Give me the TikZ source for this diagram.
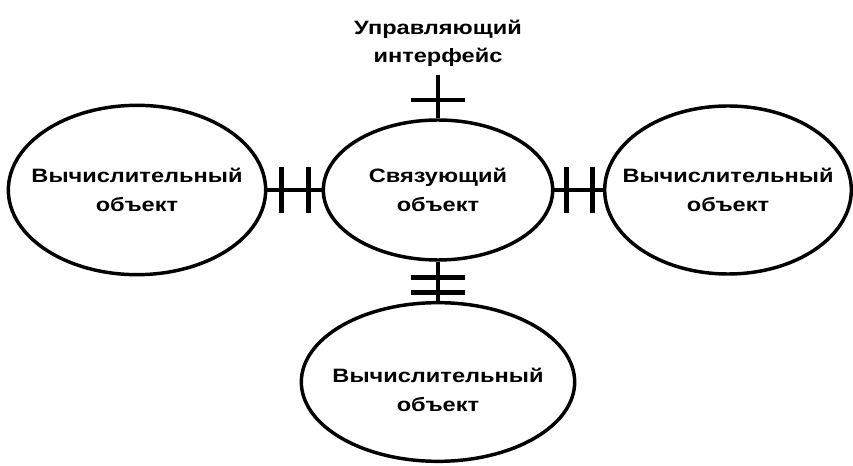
\documentclass[tikz,border=0pt]{standalone}
\usepackage{fontspec}
\setmainfont{Liberation Sans}
\newfontfamily\objfont[FakeStretch=1.22]{Liberation Sans}
\usetikzlibrary{arrows.meta,shapes.geometric}
\tikzset{
  obj/.style={draw, ellipse, line width=2.6pt, inner sep=0pt},
  objtext/.style={align=center, font=\objfont\bfseries\fontsize{14.5}{21.5}\selectfont},
  link/.style={line width=2.4pt},
  hbar/.style={{Bar[width=35pt,line width=3.6pt]}-{Bar[width=35pt,line width=3.6pt]}, line width=2.4pt},
  vbar/.style={{Bar[width=41pt,line width=3.6pt]}-{Bar[width=41pt,line width=3.6pt]}, line width=2.4pt}
}
\begin{document}
\begin{tikzpicture}[x=0.75pt, y=-0.75pt]
  \useasboundingbox (0,0) rectangle (853,466);
  % connecting object in the middle
  \node[obj, minimum width=172pt, minimum height=105pt,
        label={[objtext]center:Связующий\\объект}] (mid) at (438,190) {};
  % three computing objects round it
  \foreach \name/\x/\y/\w/\h/\s in {lobj/137/190/193/127/0, robj/728/190/185/126/0, bobj/438/382/205/119/-6} {
    \node[obj, minimum width=\w pt, minimum height=\h pt,
          label={[objtext, yshift=\s pt]center:Вычислительный\\объект}] (\name) at (\x,\y) {};
  }
  \coordinate (ctl) at (438,75); % free end of the control interface
  \node[objtext, anchor=south, inner sep=6pt] (ctltext) at (ctl) {Управляющий\\интерфейс};
  % connectors with bars
  \draw[link] (lobj) -- (mid);
  \draw[hbar, shorten <=9pt, shorten >=8pt] (lobj) -- (mid);
  \draw[link] (mid) -- (robj);
  \draw[hbar, shorten <=7.5pt, shorten >=6pt] (mid) -- (robj);
  \draw[link] (mid) -- (bobj);
  \draw[vbar, shorten <=10pt, shorten >=4.5pt] (mid) -- (bobj);
  \draw[link] (mid) -- (ctl);
  \draw[link, -{Bar[width=41pt,line width=3.6pt]}, shorten >=17pt] (mid) -- (ctl);
\end{tikzpicture}
\end{document}
